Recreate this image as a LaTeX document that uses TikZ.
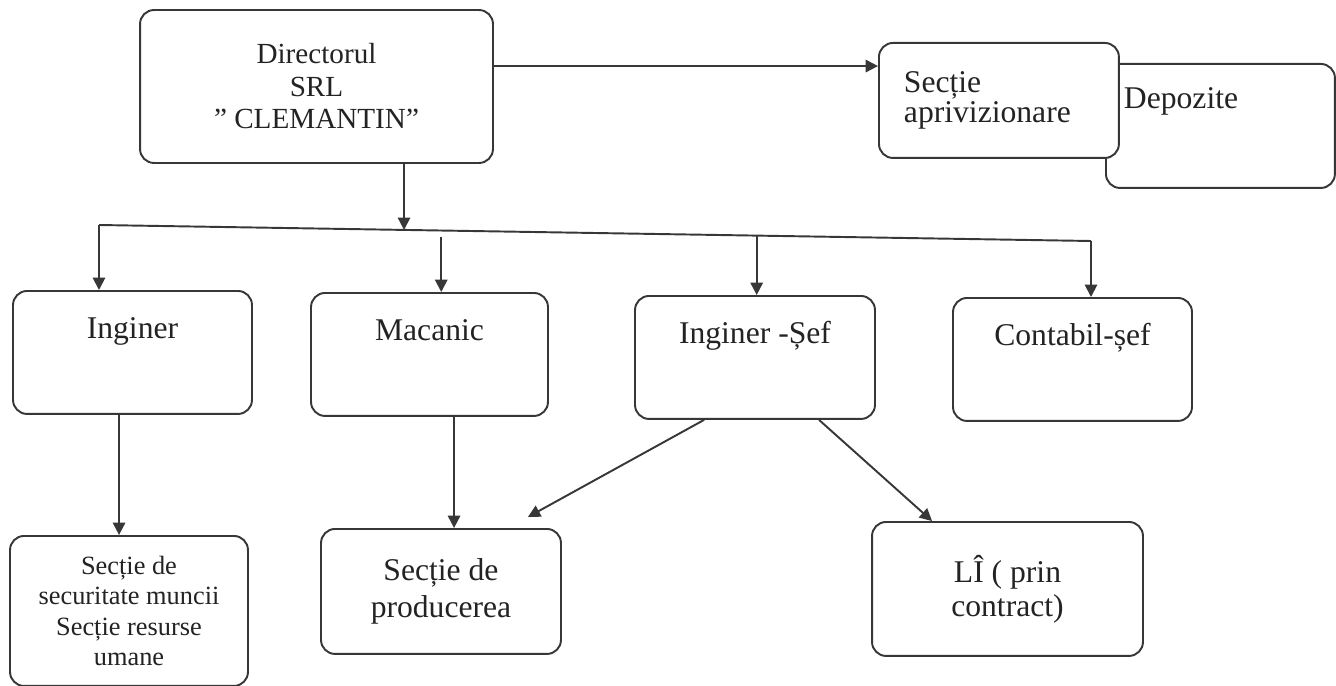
\documentclass[tikz,border=0pt]{standalone}
\usepackage{fontspec}
\setmainfont{Liberation Serif}
\usetikzlibrary{arrows.meta, positioning, calc}
\definecolor{linegray}{RGB}{55,55,55}
\definecolor{textgray}{RGB}{35,35,35}
\tikzset{
  box/.style={rectangle, rounded corners=8pt, draw=linegray, line width=1.1pt,
    fill=white, text=textgray, align=center},
  rowbox/.style={box, anchor=north, inner ysep=0pt, text height=0.96cm,
    text depth=1.5cm, font=\fontsize{18}{20}\selectfont},
  arrow/.style={-{Triangle[length=7pt, width=7pt]}, line width=1.1pt, color=linegray},
  bus/.style={line width=1.1pt, color=linegray},
}

\begin{document}
\begin{tikzpicture}[x=0.02cm, y=-0.02cm]
  \useasboundingbox (0,0) rectangle (1336,686);

  % top
  \node[box, minimum width=7.06cm, minimum height=3.06cm,
        font=\fontsize{16.6}{18.5}\selectfont] (dir) at (316.5,86.5)
        {Directorul\\SRL\\” CLEMANTIN”};
  \node[box, anchor=north west, minimum width=4.58cm, inner xsep=0.36cm,
        inner ysep=0pt, text width=3.86cm, align=left, text height=0.9cm,
        text depth=1.58cm, font=\fontsize{18}{20}\selectfont] (depoz) at (1105,63)
        {Depozite};
  \node[box, anchor=north west, minimum width=4.8cm, minimum height=2.3cm,
        inner xsep=0.5cm, text width=3.8cm, align=left,
        font=\fontsize{18}{17}\selectfont] (aprov) at (878,42)
        {Secție\\aprivizionare};

  % second row
  \node[rowbox, minimum width=4.78cm] (ing) at (132.5,290) {Inginer};
  \node[rowbox, minimum width=4.74cm] (mac) at (429.5,292) {Macanic};
  \node[rowbox, minimum width=4.8cm] (ingsef) at (755,295) {Inginer -Șef};
  \node[rowbox, minimum width=4.78cm] (contab) at (1072.5,297) {Contabil-șef};

  % third row
  \node[box, anchor=north, minimum width=4.76cm, minimum height=3.0cm,
        font=\fontsize{15}{17.4}\selectfont] (secmun) at (129,535)
        {Secție de\\securitate muncii\\Secție resurse\\umane};
  \node[box, anchor=north, minimum width=4.8cm, minimum height=2.5cm,
        font=\fontsize{18}{21.5}\selectfont] (prod) at (441,528)
        {Secție de\\producerea};
  \node[box, anchor=north, minimum width=5.42cm, minimum height=2.68cm,
        font=\fontsize{18}{19.5}\selectfont] (li) at (1007.5,521)
        {LÎ ( prin\\contract)};

  % connectors
  \coordinate (dirr) at ($(dir.north east)+(0,57)$);
  \draw[arrow] (dirr) -- (dirr -| aprov.west);

  \coordinate (busL) at (99,225);
  \coordinate (busR) at (1091,241);
  \coordinate (tapD) at ($(busL)!0.3075!(busR)$);
  \coordinate (tapM) at ($(busL)!0.345!(busR)$);
  \coordinate (tapS) at ($(busL)!0.663!(busR)$);
  \draw[bus] (busL) -- (busR);
  \draw[arrow] (dir.south -| tapD) -- (tapD);
  \draw[arrow] (busL) -- (busL |- ing.north);
  \draw[arrow] ($(tapM)+(0,6)$) -- (tapM |- mac.north);
  \draw[arrow] (tapS) -- (tapS |- ingsef.north);
  \draw[arrow] (busR) -- (busR |- contab.north);

  \coordinate (ingd) at ($(ing.south west)+(107,0)$);
  \coordinate (macd) at ($(mac.south west)+(144,0)$);
  \draw[arrow] (ingd) -- (ingd |- secmun.north);
  \draw[arrow] (macd) -- (macd |- prod.north);
  \draw[arrow] ($(ingsef.south west)+(70,0)$) -- ($(prod.north east)+(-34,-11)$);
  \draw[arrow] ($(ingsef.south west)+(185,0)$) -- ($(li.north west)+(61,0)$);
\end{tikzpicture}
\end{document}
